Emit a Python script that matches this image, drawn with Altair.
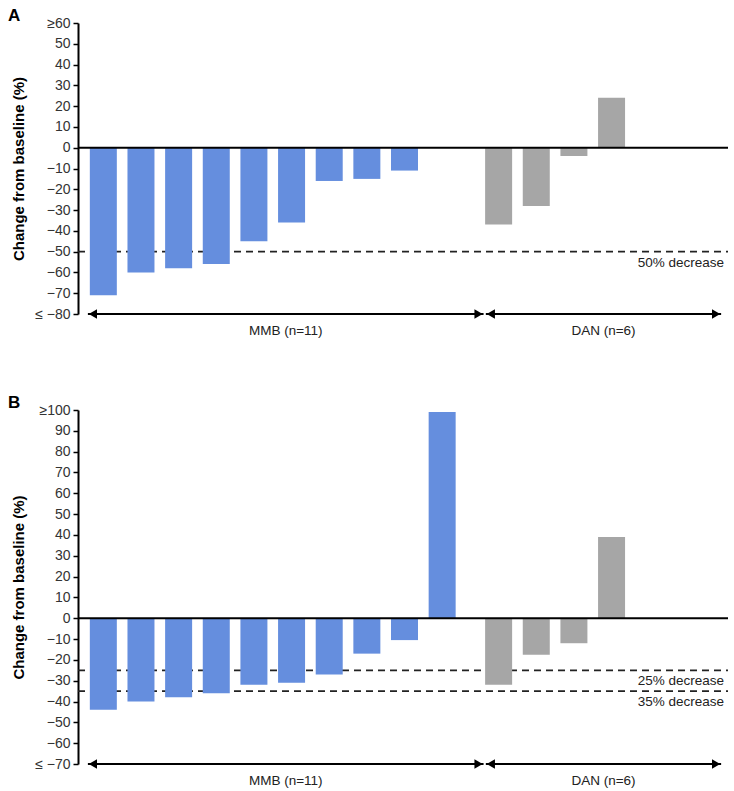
import altair as alt
import pandas as pd

FONT = "Liberation Sans"
MINUS = "\u2212"

# Best change from baseline per patient, panel A
a_mmb = [-71, -60, -58, -56, -45, -36, -16, -15, -11]
a_dan = [-37, -28, -4, 24]
# Panel B
b_mmb = [-44, -40, -38, -36, -32, -31, -27, -17, -10.5, 99]
b_dan = [-32, -17.5, -12, 39]

groups = ["MMB (n=11)", "DAN (n=6)"]
group_colors = ["#658EDE", "#A6A6A6"]
# first bar slot of each group on the x scale
group_first_slot = [1, 11.5]
# extent of each group's double arrow on the x scale
group_arrow_start = [0.59, 11.16]
group_arrow_end = [11.10, 17.41]
x_domain = [0.46, 17.46]

a_ylim = [-80, 60]
b_ylim = [-70, 100]
a_thresholds = [-50]
a_threshold_labels = ["50% decrease"]
b_thresholds = [-25, -35]
b_threshold_labels = ["25% decrease", "35% decrease"]

W = 650
PX_PER_UNIT = 2.08


def panel(letter, mmb, dan, ylim, thresholds, thr_labels):
    lo, hi = ylim
    height = round((hi - lo) * PX_PER_UNIT)

    bars = pd.DataFrame({
        "pos": [group_first_slot[0] + i for i in range(len(mmb))]
        + [group_first_slot[1] + i for i in range(len(dan))],
        "value": mmb + dan,
        "group": [groups[0]] * len(mmb) + [groups[1]] * len(dan),
    })

    xs = alt.Scale(domain=x_domain, nice=False, zero=False)
    ys = alt.Scale(domain=[lo, hi], nice=False, zero=False)

    label_expr = (
        f"datum.value >= {hi} ? '\u2265{hi}' : "
        f"datum.value <= {lo} ? '\u2264 {MINUS}{abs(lo)}' : "
        f"replace(format(datum.value, 'd'), '-', '{MINUS}')"
    )
    y_axis = alt.Axis(
        values=list(range(lo, hi + 1, 10)),
        labelExpr=label_expr,
        labelOverlap=False,
        labelFlush=False,
        labelBound=False,
        labelFont=FONT,
        labelFontSize=14,
        labelColor="#333333",
        labelPadding=3,
        domainColor="black",
        domainWidth=2,
        tickColor="black",
        tickWidth=1.5,
        tickSize=5,
        title="Change from baseline (%)",
        titleFont=FONT,
        titleFontSize=15,
        titleFontWeight="bold",
        titleColor="black",
        titleX=-60,
        titleY=height / 2,
        titleBaseline="middle",
        grid=False,
    )

    def yenc(field):
        return alt.Y(field, scale=ys, axis=y_axis)

    base = alt.Chart(bars)

    thr_df = pd.DataFrame({"value": thresholds, "label": thr_labels})
    thr_rules = alt.Chart(thr_df).mark_rule(
        color="#222222", strokeWidth=1.8, strokeDash=[7, 5]
    ).encode(
        y=yenc("value:Q"),
        x=alt.value(0),
        x2=alt.value(W),
    )
    thr_text = alt.Chart(thr_df).mark_text(
        align="right", baseline="middle", dy=11, fontSize=13.5, font=FONT, color="#222222"
    ).encode(
        y=yenc("value:Q"),
        x=alt.value(W - 4),
        text="label:N",
    )

    bar_layer = base.mark_bar(size=27).encode(
        x=alt.X("pos:Q", scale=xs, axis=None),
        y=yenc("value:Q"),
        color=alt.Color("group:N", scale=alt.Scale(domain=groups, range=group_colors), legend=None),
    )

    zero_df = pd.DataFrame({"value": [0]})
    zero_rule = alt.Chart(zero_df).mark_rule(color="black", strokeWidth=2).encode(
        y=yenc("value:Q"),
        x=alt.value(0),
        x2=alt.value(W),
    )

    arrows = pd.DataFrame({
        "group": groups,
        "start": group_arrow_start,
        "end": group_arrow_end,
        "mid": [(s + e) / 2 for s, e in zip(group_arrow_start, group_arrow_end)],
        "value": [lo, lo],
    })
    arrow_base = alt.Chart(arrows)
    arrow_line = arrow_base.mark_rule(color="black", strokeWidth=2).encode(
        x=alt.X("start:Q", scale=xs, axis=None), x2="end:Q", y=yenc("value:Q")
    )
    head_right = arrow_base.mark_point(
        shape="triangle-right", filled=True, color="black", opacity=1, size=90, xOffset=-5
    ).encode(x=alt.X("end:Q", scale=xs, axis=None), y=yenc("value:Q"))
    head_left = arrow_base.mark_point(
        shape="triangle-left", filled=True, color="black", opacity=1, size=90, xOffset=5
    ).encode(x=alt.X("start:Q", scale=xs, axis=None), y=yenc("value:Q"))
    group_text = arrow_base.mark_text(
        baseline="middle", dy=17, fontSize=13.5, font=FONT, color="#222222"
    ).encode(x=alt.X("mid:Q", scale=xs, axis=None), y=yenc("value:Q"), text="group:N")

    letter_mark = alt.Chart(pd.DataFrame({"t": [letter]})).mark_text(
        align="left", baseline="top", fontSize=17, fontWeight="bold", font=FONT, color="black"
    ).encode(text="t:N", x=alt.value(-70), y=alt.value(-15))

    return alt.layer(
        thr_rules, bar_layer, zero_rule, thr_text,
        arrow_line, head_right, head_left, group_text, letter_mark,
    ).properties(width=W, height=height)


chart = alt.vconcat(
    panel("A", a_mmb, a_dan, a_ylim, a_thresholds, a_threshold_labels),
    panel("B", b_mmb, b_dan, b_ylim, b_thresholds, b_threshold_labels),
    spacing=56,
).properties(
    padding={"left": 8, "top": 7, "right": 5, "bottom": 5},
).configure_view(
    stroke=None
)

chart.save("out.html", embed_options={"renderer": "svg", "actions": False})
